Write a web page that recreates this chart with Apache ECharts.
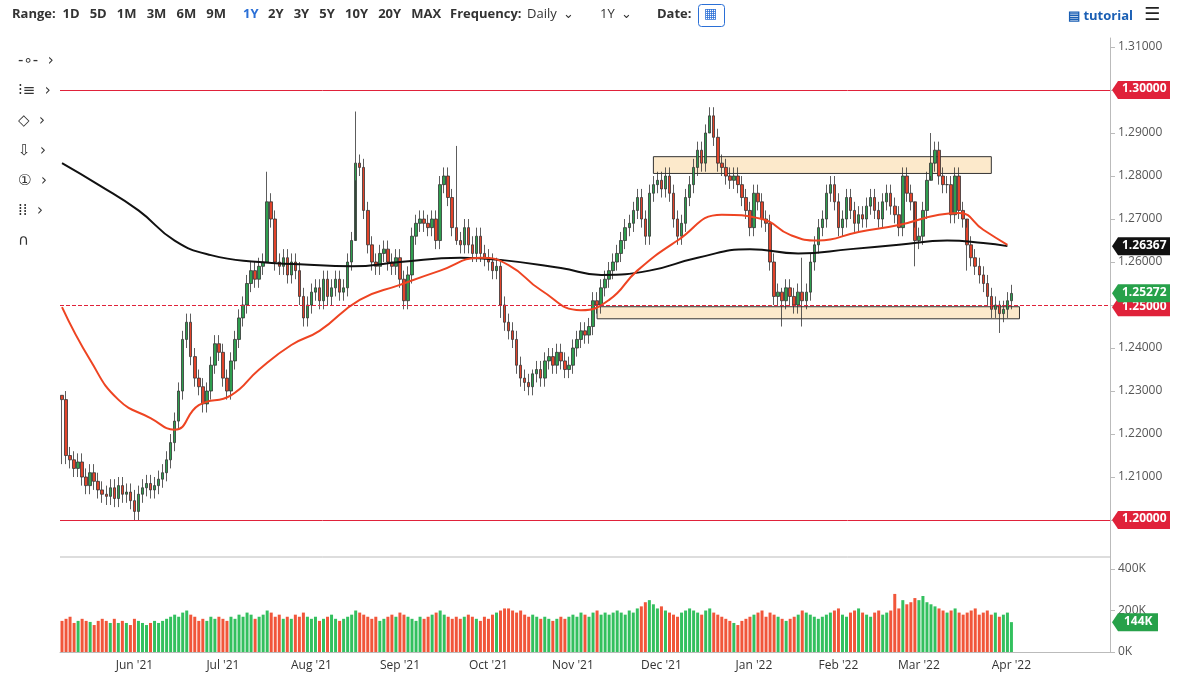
<!DOCTYPE html>
<html><head><meta charset="utf-8">
<script src="https://cdn.jsdelivr.net/npm/echarts@6/dist/echarts.min.js"></script>
<style>html,body{margin:0;background:#fff}#c{width:1178px;height:687px}</style>
</head><body><div id="c"></div>
<script>
// closes in pips above 1.0000 (daily, 2021-05-06 .. 2022-04-01)
const closes = [2280,2150,2140,2120,2135,2100,2080,2110,2090,2070, 2060,2055,2075,2050,2080,2060,2065,2045,2020,2060,
  2075,2085,2070,2080,2095,2110,2140,2180,2230,2300, 2420,2460,2380,2330,2310,2270,2300,2360,2410,2390,
  2330,2300,2370,2420,2470,2500,2550,2580,2560,2590, 2600,2740,2700,2600,2590,2610,2570,2600,2580,2520,
  2470,2500,2530,2540,2510,2560,2520,2540,2560,2530, 2540,2600,2650,2830,2820,2720,2640,2600,2590,2620,
  2630,2600,2590,2610,2560,2510,2570,2660,2690,2700, 2690,2680,2700,2650,2780,2800,2750,2680,2650,2640,
  2680,2640,2620,2660,2620,2610,2600,2580,2590,2500, 2460,2440,2420,2360,2330,2320,2310,2340,2350,2330,
  2370,2380,2360,2390,2370,2350,2360,2400,2420,2440, 2430,2450,2510,2500,2540,2560,2580,2600,2620,2650,
  2680,2690,2720,2750,2700,2660,2760,2780,2790,2770, 2800,2760,2700,2660,2690,2750,2780,2820,2860,2830,
  2900,2940,2890,2830,2820,2800,2790,2800,2780,2750, 2720,2680,2760,2740,2700,2690,2600,2520,2530,2510,
  2540,2520,2500,2530,2510,2530,2600,2640,2680,2700, 2760,2780,2740,2680,2700,2750,2720,2690,2710,2700,
  2730,2750,2720,2700,2740,2760,2730,2710,2680,2800, 2760,2740,2650,2660,2720,2790,2830,2860,2800,2780,
  2780,2710,2800,2720,2700,2640,2610,2590,2570,2550, 2520,2490,2500,2480,2490,2510,2527];
const firstOpen = 2290;
// notable wick extremes [index, high, low] in pips
const spikes = [[0,2290,2130],[18,2070,2000],[51,2810,2600],[73,2950,2790],[98,2870,2640],[109,2600,2470],
  [117,2350,2290],[161,2960,2900],[184,2610,2450],[179,2540,2450],[216,2900,2800],[212,2680,2590],[233,2510,2435],[225,2680,2580]];
const volumes = [150,160,170,140,150,160,150,145,130,150, 160,150,140,160,140,150,140,130,160,150, 140,130,140,150,140,150,160,170,180,170, 190,200,180,170,150,160,150,170,160,170,
  160,150,170,160,180,170,190,180,160,170, 180,200,190,170,180,160,170,160,180,170, 190,170,160,170,150,160,170,180,160,150, 160,170,180,200,190,180,170,160,170,150,
  160,170,180,170,190,180,170,160,150,170, 160,170,180,190,200,180,170,160,170,160, 170,180,170,160,150,170,160,180,190,200, 210,210,200,190,200,180,170,180,170,160,
  170,160,150,160,170,160,170,180,170,190, 180,170,190,200,180,190,180,190,200,190, 180,200,190,210,220,240,250,230,210,220, 200,190,180,170,190,200,210,200,190,180,
  200,210,190,180,170,160,150,140,130,150, 160,170,180,190,200,170,190,180,170,160, 150,160,170,180,200,190,180,170,160,170, 180,190,200,210,180,170,190,200,210,190,
  180,170,190,200,180,190,200,280,210,250, 230,240,260,250,270,240,230,220,210,200, 190,200,210,190,180,190,200,210,180,190, 200,180,190,170,180,190,144];
const ma200 = [[0,1.283],[9,1.278],[19,1.272],[28,1.265],[37,1.2616],[49,1.26],[59,1.2595],[72,1.259],[84,1.26],[99,1.261],
  [109,1.2605],[124,1.2586],[134,1.257],[146,1.258],[158,1.261],[171,1.263],[183,1.262],[196,1.263],[208,1.264],[220,1.265],[229,1.2644],[235,1.2637]];
const ma50 = [[0,1.2495],[7,1.2372],[14,1.228],[22,1.2237],[28,1.221],[34,1.2267],[42,1.229],[49,1.235],[57,1.2407],[64,1.244],
  [74,1.2512],[84,1.2547],[94,1.258],[104,1.261],[111,1.2593],[119,1.2535],[129,1.2488],[136,1.2512],[143,1.258],[153,1.265],
  [164,1.271],[174,1.27],[181,1.2663],[188,1.265],[198,1.267],[208,1.2686],[218,1.271],[223,1.2714],[229,1.2675],[235,1.264]];
const priceTicks = [1.20,1.21,1.22,1.23,1.24,1.25,1.26,1.27,1.28,1.29,1.30,1.31];
const volTicks = [0,200,400];
const priceTags = [[1.30,'1.30000','#e0223a'],[1.26367,'1.26367','#111'],[1.2495,'1.25000','#e0223a'],[1.25272,'1.25272','#27a14a'],[1.20,'1.20000','#e0223a']];

// weekday dates + empty future slots
const dates = [];
let d = new Date(Date.UTC(2021,4,6));
while (dates.length < closes.length + 24) {
  const w = d.getUTCDay();
  if (w !== 0 && w !== 6) dates.push(d.toISOString().slice(0,10));
  d.setUTCDate(d.getUTCDate()+1);
}
const mon = ['Jan','Feb','Mar','Apr','May','Jun','Jul','Aug','Sep','Oct','Nov','Dec'];
const monthStart = dates.map((s,i) => i > 0 && s.slice(5,7) !== dates[i-1].slice(5,7));

const spikeMap = {};
spikes.forEach(s => spikeMap[s[0]] = s);
const candles = closes.map((c,i) => {
  const o = i === 0 ? firstOpen : closes[i-1];
  let hi = Math.max(o,c) + 20, lo = Math.min(o,c) - 20;
  if (spikeMap[i]) { hi = spikeMap[i][1]; lo = spikeMap[i][2]; }
  return [o/1e4+1, c/1e4+1, lo/1e4+1, hi/1e4+1];
});
const GREEN = '#2f9e4f', RED = '#e2432a';
const volData = volumes.map((v,i) => ({value: v, itemStyle: {color: candles[i][1] >= candles[i][0] ? '#33c05e' : '#f1563a'}}));

const option = {
  animation: false,
  textStyle: {fontFamily: 'Open Sans'},
  grid: [{left: 60, right: 68, top: 38, height: 519}, {left: 60, right: 68, top: 557, height: 95}],
  xAxis: [
    {type: 'category', data: dates, gridIndex: 0, boundaryGap: true, axisLine: {show: false}, axisTick: {show: false}, axisLabel: {show: false}},
    {type: 'category', data: dates, gridIndex: 1, boundaryGap: true, axisLine: {lineStyle: {color: '#bbb'}},
      axisTick: {show: false},
      axisLabel: {interval: (i) => monthStart[i] && dates[i].slice(5,7) !== '05', color: '#333', fontSize: 12,
        formatter: s => mon[+s.slice(5,7)-1] + " '" + s.slice(2,4)}}
  ],
  yAxis: [
    {type: 'value', gridIndex: 0, position: 'right', min: 1.1914, max: 1.3121, splitLine: {show: false},
      axisLine: {show: true, lineStyle: {color: '#bbb'}}, axisTick: {show: true, customValues: priceTicks},
      axisLabel: {customValues: priceTicks, formatter: v => v.toFixed(5), color: '#555', fontSize: 12}},
    {type: 'value', gridIndex: 1, position: 'right', min: 0, max: 458, splitLine: {show: false},
      axisLine: {show: true, lineStyle: {color: '#bbb'}}, axisTick: {show: true, customValues: volTicks},
      axisLabel: {customValues: volTicks, formatter: v => v + 'K', color: '#555', fontSize: 12}}
  ],
  series: [
    {type: 'candlestick', data: candles, barWidth: 3,
      itemStyle: {color: GREEN, color0: RED, borderColor: '#333', borderColor0: '#333', borderWidth: 0.8},
      markLine: {symbol: 'none', silent: true, label: {show: false}, data: [
        {yAxis: 1.30, lineStyle: {color: '#e0223a', type: 'solid', width: 1}},
        {yAxis: 1.20, lineStyle: {color: '#e0223a', type: 'solid', width: 1}},
        {yAxis: 1.2495, lineStyle: {color: '#e0223a', type: 'dashed', width: 1}}
      ]},
      markArea: {silent: true, itemStyle: {color: 'rgba(250,215,160,0.55)', borderColor: '#333', borderWidth: 1}, data: [
        [{xAxis: 147, yAxis: 1.2845}, {xAxis: 231, yAxis: 1.2806}],
        [{xAxis: 133, yAxis: 1.2496}, {xAxis: 238, yAxis: 1.2468}]
      ]}
    },
    {type: 'line', data: ma200, smooth: true, symbol: 'none', lineStyle: {color: '#111', width: 2}},
    {type: 'line', data: ma50, smooth: true, symbol: 'none', lineStyle: {color: '#ee4422', width: 2}},
    {type: 'bar', xAxisIndex: 1, yAxisIndex: 1, data: volData, barWidth: 3}
  ],
  graphic: [
    {type: 'line', shape: {x1: 60, y1: 557, x2: 1110, y2: 557}, style: {stroke: '#bbb'}},
    {type: 'text', left: 12, top: 8, style: {text: 'Range:  1D   5D   1M   3M   6M   9M', font: 'bold 13px Open Sans', fill: '#333'}},
    {type: 'text', left: 243, top: 8, style: {text: '1Y', font: 'bold 13px Open Sans', fill: '#2a6fd6'}},
    {type: 'text', left: 268, top: 8, style: {text: '2Y   3Y   5Y   10Y   20Y   MAX', font: 'bold 13px Open Sans', fill: '#333'}},
    {type: 'text', left: 450, top: 8, style: {text: 'Frequency:', font: 'bold 13px Open Sans', fill: '#333'}},
    {type: 'text', left: 527, top: 8, style: {text: 'Daily  ⌄', font: '13px Open Sans', fill: '#333'}},
    {type: 'text', left: 600, top: 8, style: {text: '1Y  ⌄', font: '13px Open Sans', fill: '#333'}},
    {type: 'text', left: 657, top: 8, style: {text: 'Date:', font: 'bold 13px Open Sans', fill: '#333'}},
    {type: 'rect', left: 698, top: 4, shape: {width: 26, height: 22, r: 3}, style: {fill: '#fff', stroke: '#2a6fd6'}},
    {type: 'text', left: 704, top: 7, style: {text: '▦', font: '14px DejaVu Sans', fill: '#2a6fd6'}},
    {type: 'text', left: 1068, top: 10, style: {text: '▤ tutorial', font: 'bold 13px Open Sans', fill: '#1a5fb4'}},
    {type: 'text', left: 1144, top: 6, style: {text: '☰', font: 'bold 18px DejaVu Sans', fill: '#222'}},
    {type: 'text', left: 18, top: 54, style: {text: '-∘-  ›\n\n⁝≡  ›\n\n◇  ›\n\n⇩  ›\n\n①  ›\n\n⁞⁞  ›\n\n∩', font: '15px DejaVu Sans', fill: '#333', lineHeight: 15}}
  ]
};

const chart = echarts.init(document.getElementById('c'));
chart.setOption(option);

// value tags on the right axis, placed through the axis scale (drawn above the axis labels)
priceTags.forEach(([v, t, bg], k) => {
  const y = chart.convertToPixel({yAxisIndex: 0}, v);
  option.graphic.push({type: 'group', x: 1112, y: y - 9, z: 100 + k, children: [
    {type: 'polygon', z: 100 + k, shape: {points: [[0,9],[6,0],[58,0],[58,18],[6,18]]}, style: {fill: bg}},
    {type: 'text', z: 100 + k, x: 10, y: 2, style: {text: t, font: 'bold 12px Open Sans', fill: '#fff'}}
  ]});
});
const vy = chart.convertToPixel({yAxisIndex: 1}, volumes[volumes.length-1]);
option.graphic.push({type: 'group', x: 1112, y: vy - 9, z: 100, children: [
  {type: 'polygon', z: 100, shape: {points: [[0,9],[6,0],[46,0],[46,18],[6,18]]}, style: {fill: '#27a14a'}},
  {type: 'text', z: 100, x: 12, y: 2, style: {text: '144K', font: 'bold 12px Open Sans', fill: '#fff'}}
]});
chart.setOption(option, true);
</script></body></html>
